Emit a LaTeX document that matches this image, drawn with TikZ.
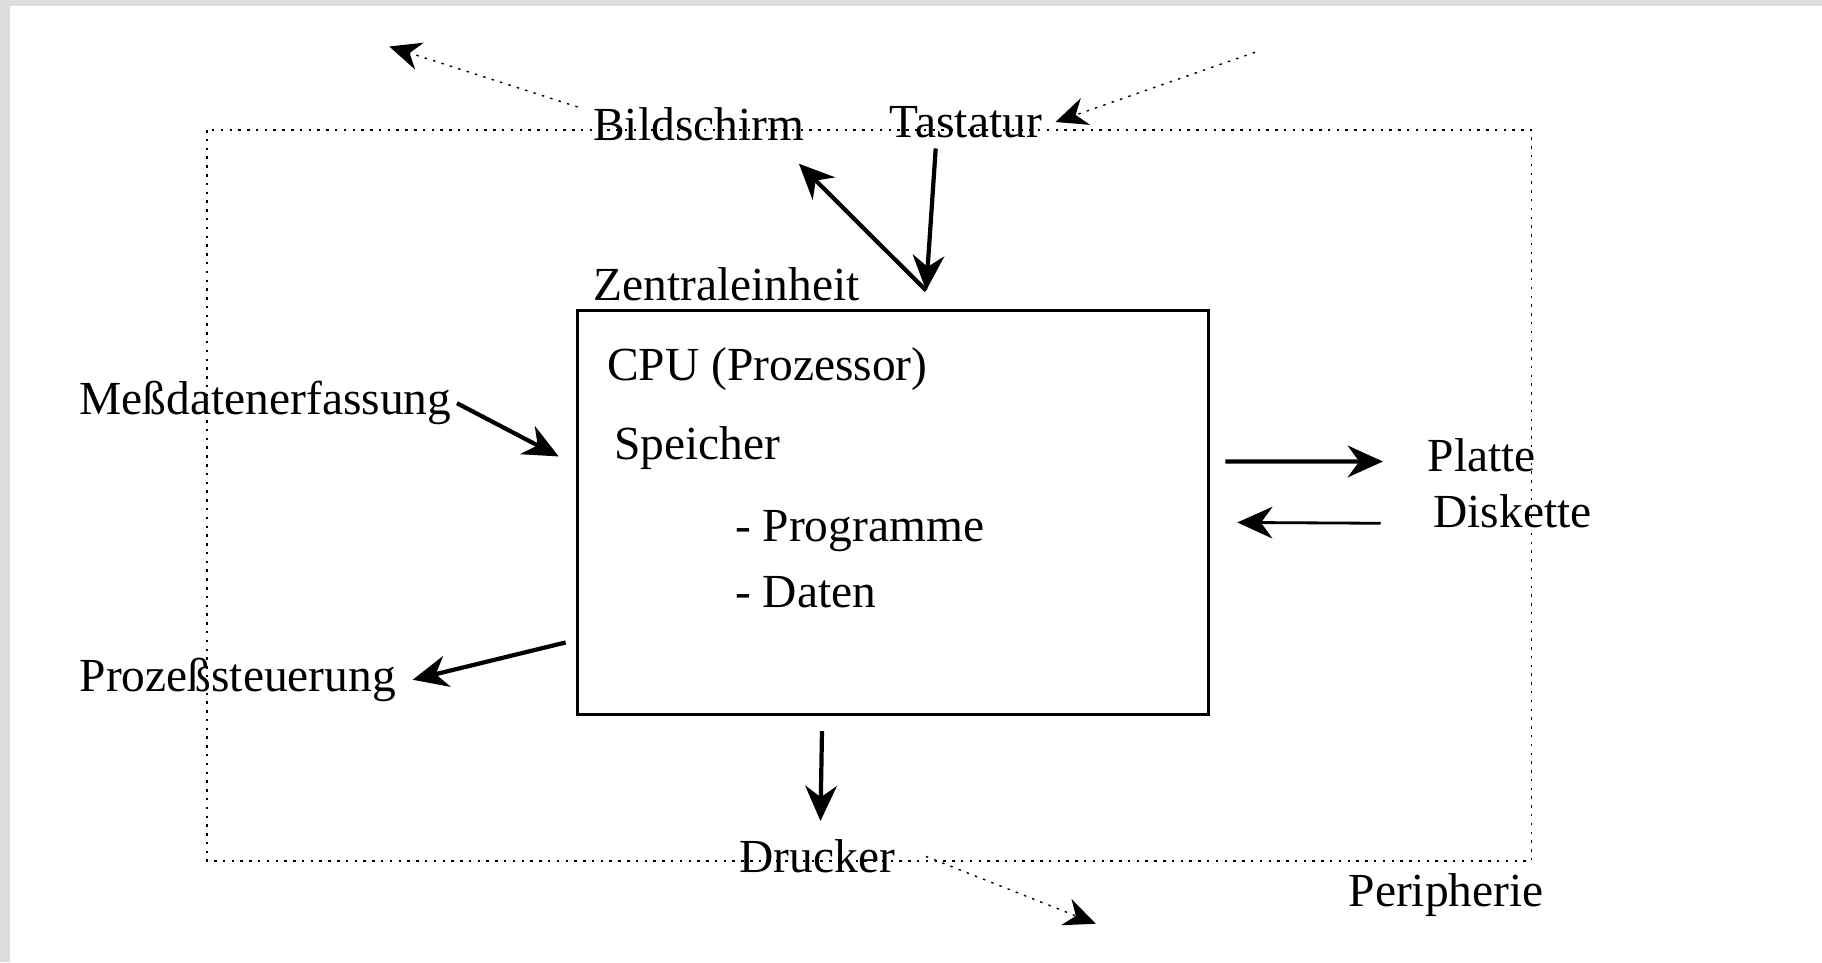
\documentclass[tikz,border=0pt]{standalone}
\usepackage{fontspec}
\setmainfont{Liberation Serif}
\usetikzlibrary{arrows.meta}
\definecolor{rand}{HTML}{DDDDDD}

\tikzset{
    txt/.style={inner sep=0pt, anchor=west, font=\fontsize{13.5}{16}\selectfont},
    pfeil/.style={line width=1.2pt, -{Stealth[length=10pt,width=9pt]}},
    punkte/.style={line width=0.4pt, dash pattern=on 0.7pt off 1.8pt},
    punktpfeil/.style={punkte, -{Stealth[length=9pt,width=8pt]}},
}

\begin{document}
\begin{tikzpicture}[x=0.1162mm, y=-0.1162mm]
    \useasboundingbox (0,0) rectangle (1568,828);
    \fill[rand] (0,0) rectangle (1568,828);
    \fill[white] (9,5) rectangle (1568,828);
    \draw[punkte] (178,112) rectangle (1318,741);
    \node[draw, line width=1pt, minimum width=63.1mm, minimum height=40.4mm, inner sep=0pt] (box) at (768.5,441) {};
    \node[txt] (bild) at (510,107) {Bildschirm};
    \node[txt] (tast) at (765,105) {Tastatur};
    \node[txt] (zlabel) at (510,245) {Zentraleinheit};
    \node[txt] (cpu) at (522,318) {CPU (Prozessor)};
    \node[txt] (speicher) at (528,386) {Speicher};
    \node[txt] (prog) at (632,457) {- Programme};
    \node[txt] (daten) at (632,510) {- Daten};
    \node[txt] (mess) at (68,347) {Meßdatenerfassung};
    \node[txt] (prozess) at (68,585) {Prozeßsteuerung};
    \node[txt] (platte) at (1228,392) {Platte};
    \node[txt] (disk) at (1233,440) {Diskette};
    \node[txt] (drucker) at (636,737) {Drucker};
    \node[txt] (peri) at (1160,770) {Peripherie};
    \coordinate (nw) at (335,40);
    \coordinate (no) at (1080,45);
    \coordinate (so) at (943,795);
    \coordinate (spitze) at (797,250);
    \draw[punktpfeil] ([xshift=-1.5mm]bild.north west) -- (nw);
    \draw[punktpfeil] (no) -- ([xshift=1.3mm]tast.east);
    \draw[punktpfeil] ([xshift=3mm]drucker.east) -- (so);
    \draw[pfeil] ([xshift=-3mm,yshift=-1mm]tast.south) -- (spitze);
    \draw[pfeil] (spitze) -- ([shift={(-0.6mm,-2.2mm)}]bild.south east);
    \draw[pfeil] ([xshift=0.5mm]mess.east) -- ([shift={(-1.7mm,5.6mm)}]box.west);
    \draw[pfeil] ([shift={(-1mm,-13mm)}]box.west) -- ([xshift=1.6mm]prozess.east);
    \draw[pfeil] ([shift={(1.5mm,5.1mm)}]box.east) -- ([shift={(-4.4mm,-0.6mm)}]platte.west);
    \draw[pfeil, line width=0.8pt] ([shift={(-5.2mm,-1.2mm)}]disk.west) -- ([shift={(2.7mm,-1mm)}]box.east);
    \draw[pfeil] ([shift={(-7.1mm,-1.5mm)}]box.south) -- ([shift={(0.3mm,1.8mm)}]drucker.north);
\end{tikzpicture}
\end{document}
